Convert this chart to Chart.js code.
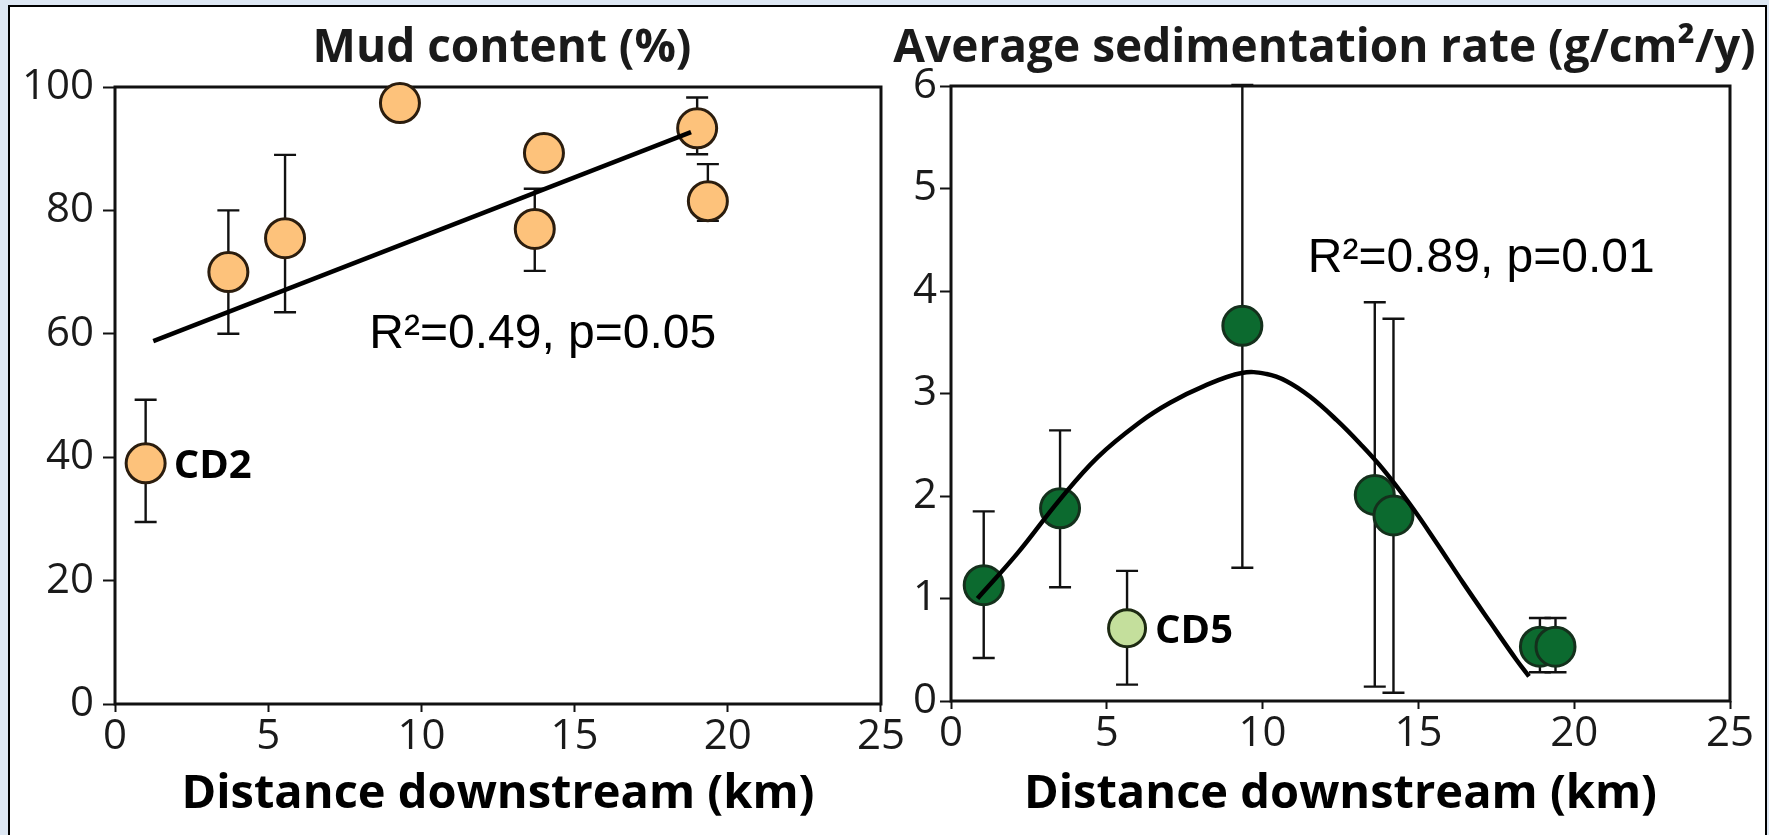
<!DOCTYPE html>
<html>
<head>
<meta charset="utf-8">
<title>Mud content and sedimentation rate vs distance downstream</title>
<script src="https://cdn.jsdelivr.net/npm/chart.js@4.4.1/dist/chart.umd.min.js"></script>
<style>
  html, body { margin: 0; padding: 0; width: 1769px; height: 835px; overflow: hidden; background: #dde7f3; }
  #frame { position: absolute; left: 8px; top: 5px; width: 1759px; height: 850px; background: #fff; border: 2px solid #000; box-sizing: border-box; }
  .panel { position: absolute; top: 0; height: 835px; }
  #mudPanel { left: 0; width: 905px; }
  #sedPanel { left: 885px; width: 884px; }
</style>
</head>
<body>
<div id="frame"></div>
<div class="panel" id="mudPanel"><canvas id="mudChart"></canvas></div>
<div class="panel" id="sedPanel"><canvas id="sedChart"></canvas></div>
<script>
// ---- data ----
const xTicksKm = [0, 5, 10, 15, 20, 25];

// left panel: mud content (%)
const mudDistance = [1.0, 3.7, 5.55, 9.3, 14.0, 13.7, 19.0, 19.35];
const mudContent  = [39.0, 70.0, 75.5, 97.4, 89.3, 77.0, 93.3, 81.5];
const mudErrUp    = [10.3, 10.0, 13.5, null, null, 6.5, 5.0, 6.0];
const mudErrDown  = [9.5, 10.0, 12.0, null, null, 6.8, 4.2, 3.2];
const mudLabels   = ['CD2', '', '', '', '', '', '', ''];
const mudFitX     = [1.25, 18.8];
const mudFitY     = [58.8, 92.7];
const mudStats    = 'R²=0.49, p=0.05';

// right panel: average sedimentation rate (g/cm2/y)
const sedDistance = [1.05, 3.5, 5.65, 9.35, 13.6, 14.2, 18.9, 19.4];
const sedRate     = [1.13, 1.88, 0.71, 3.66, 2.01, 1.81, 0.53, 0.53];
const sedErrUp    = [0.72, 0.76, 0.56, 2.35, 1.88, 1.92, 0.28, 0.28];
const sedErrDown  = [0.71, 0.77, 0.55, 2.36, 1.87, 1.73, 0.25, 0.25];
const sedLabels   = ['', '', 'CD5', '', '', '', '', ''];
const sedFitX     = [0.85, 2.13, 3.48, 4.71, 6.06, 7.03, 8.10, 9.33, 10.13, 10.77, 11.52, 12.38, 13.13, 13.87, 14.73, 15.59, 16.44, 17.30, 18.15, 18.55];
const sedFitY     = [1.00, 1.44, 1.96, 2.38, 2.72, 2.91, 3.07, 3.20, 3.19, 3.12, 2.97, 2.74, 2.51, 2.26, 1.92, 1.54, 1.15, 0.77, 0.40, 0.24];
const sedStats    = 'R²=0.89, p=0.01';

const INK = '#1a1a1a';
const TICK_FONT = "'Open Sans', 'DejaVu Sans', sans-serif";
const LABEL_FONT = "'Open Sans', 'DejaVu Sans', sans-serif";
const STAT_FONT = "'Liberation Sans', Arial, sans-serif";

// box around the plot area, drawn under the points
const frameBox = {
  id: 'frameBox',
  beforeDatasetsDraw(chart) {
    const { ctx, chartArea: a } = chart;
    ctx.save();
    ctx.strokeStyle = '#111';
    ctx.lineWidth = 3;
    ctx.strokeRect(a.left, a.top, a.right - a.left, a.bottom - a.top);
    ctx.restore();
  }
};

// vertical error bars with caps
const errorBars = {
  id: 'errorBars',
  beforeDatasetsDraw(chart, args, opts) {
    const { ctx, scales: { x, y } } = chart;
    ctx.save();
    ctx.strokeStyle = '#111';
    ctx.lineWidth = 2.4;
    opts.xs.forEach((xv, i) => {
      if (opts.up[i] == null) return;
      const px = x.getPixelForValue(xv);
      const top = y.getPixelForValue(opts.ys[i] + opts.up[i]);
      const bot = y.getPixelForValue(opts.ys[i] - opts.down[i]);
      ctx.beginPath();
      ctx.moveTo(px, top); ctx.lineTo(px, bot);
      ctx.moveTo(px - 11, top); ctx.lineTo(px + 11, top);
      ctx.moveTo(px - 11, bot); ctx.lineTo(px + 11, bot);
      ctx.stroke();
    });
    ctx.restore();
  }
};

// panel title, point names and the fit statistics
const panelText = {
  id: 'panelText',
  afterDraw(chart, args, opts) {
    const { ctx, chartArea: a, scales: { x, y } } = chart;
    ctx.save();
    ctx.fillStyle = INK;
    ctx.textBaseline = 'middle';
    ctx.textAlign = 'center';
    ctx.font = `bold ${opts.titleSize}px ${LABEL_FONT}`;
    ctx.fillText(opts.title, (a.left + a.right) / 2 + opts.titleDx, opts.titleY);

    ctx.textAlign = 'left';
    ctx.fillStyle = '#000';
    ctx.font = `bold 40px ${LABEL_FONT}`;
    opts.names.forEach((n, i) => {
      if (!n) return;
      ctx.fillText(n, x.getPixelForValue(opts.xs[i]) + 28, y.getPixelForValue(opts.ys[i]) + 3);
    });

    ctx.font = `48px ${STAT_FONT}`;
    ctx.fillText(opts.stats, x.getPixelForValue(opts.statsAt[0]), y.getPixelForValue(opts.statsAt[1]));
    ctx.restore();
  }
};

function xAxis(height) {
  return {
    type: 'linear', min: 0, max: 25,
    afterBuildTicks: s => { s.ticks = xTicksKm.map(v => ({ value: v })); },
    ticks: { font: { family: TICK_FONT, size: 42 }, color: INK, padding: 0 },
    grid: { drawOnChartArea: false, tickLength: 8, tickWidth: 2, tickColor: '#111' },
    border: { display: false },
    title: {
      display: true, text: 'Distance downstream (km)', color: '#000',
      font: { family: LABEL_FONT, size: 47, weight: 'bold' },
      padding: { top: 0, bottom: 12 }
    },
    afterFit: s => { s.height = height; }
  };
}

function yAxis(max, step, width, tickLen, pad) {
  return {
    type: 'linear', min: 0, max: max,
    ticks: { stepSize: step, font: { family: TICK_FONT, size: 42 }, color: INK, padding: pad },
    grid: { drawOnChartArea: false, tickLength: tickLen, tickWidth: 2, tickColor: '#111' },
    border: { display: false },
    afterFit: s => { s.width = width; }
  };
}

function pairs(xs, ys) {
  return xs.map((v, i) => ({ x: v, y: ys[i] }));
}

new Chart(document.getElementById('mudChart'), {
  type: 'scatter',
  data: {
    datasets: [
      {
        type: 'line', data: pairs(mudFitX, mudFitY), order: 0,
        borderColor: '#000', borderWidth: 4.5, pointRadius: 0, fill: false, clip: false
      },
      {
        data: pairs(mudDistance, mudContent), order: 1, clip: false,
        pointRadius: 19.5, pointHoverRadius: 19.5, borderWidth: 3,
        backgroundColor: '#fdc27b', borderColor: '#2b1d0e'
      }
    ]
  },
  options: {
    responsive: true, maintainAspectRatio: false, animation: false,
    layout: { padding: { top: 87, right: 24, left: 0, bottom: 0 } },
    plugins: {
      legend: { display: false }, tooltip: { enabled: false },
      errorBars: { xs: mudDistance, ys: mudContent, up: mudErrUp, down: mudErrDown },
      panelText: {
        title: 'Mud content (%)', titleSize: 46, titleDx: 4, titleY: 49,
        names: mudLabels, xs: mudDistance, ys: mudContent,
        stats: mudStats, statsAt: [8.3, 59.8]
      }
    },
    scales: { x: xAxis(131), y: yAxis(100, 20, 115, 12, 9) }
  },
  plugins: [frameBox, errorBars, panelText]
});

new Chart(document.getElementById('sedChart'), {
  type: 'scatter',
  data: {
    datasets: [
      {
        type: 'line', data: pairs(sedFitX, sedFitY), order: 0,
        borderColor: '#000', borderWidth: 4.5, pointRadius: 0, fill: false, clip: false,
        tension: 0.4
      },
      {
        data: pairs(sedDistance, sedRate), order: 1, clip: false,
        pointRadius: sedLabels.map(n => n ? 18.5 : 19.5), pointHoverRadius: 19.5, borderWidth: 3,
        backgroundColor: sedLabels.map(n => n ? '#c4df9c' : '#0c6a2f'),
        borderColor: sedLabels.map(n => n ? '#1d2a12' : '#14301c')
      }
    ]
  },
  options: {
    responsive: true, maintainAspectRatio: false, animation: false,
    layout: { padding: { top: 86, right: 39, left: 0, bottom: 0 } },
    plugins: {
      legend: { display: false }, tooltip: { enabled: false },
      errorBars: { xs: sedDistance, ys: sedRate, up: sedErrUp, down: sedErrDown },
      panelText: {
        title: 'Average sedimentation rate (g/cm²/y)', titleSize: 46, titleDx: -16, titleY: 49,
        names: sedLabels, xs: sedDistance, ys: sedRate,
        stats: sedStats, statsAt: [11.45, 4.31]
      }
    },
    scales: { x: xAxis(134), y: yAxis(6, 1, 66, 11, 3) }
  },
  plugins: [frameBox, errorBars, panelText]
});
</script>
</body>
</html>
